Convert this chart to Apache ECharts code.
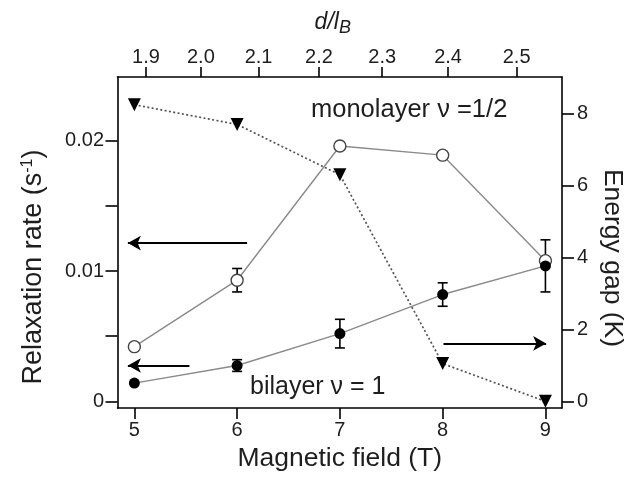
<!DOCTYPE html>
<html>
<head>
<meta charset="utf-8">
<script src="https://cdn.jsdelivr.net/npm/echarts@6/dist/echarts.min.js"></script>
<style>
  html, body { margin: 0; padding: 0; background: #fff; }
  #chart { width: 634px; height: 477px; }
</style>
</head>
<body>
<div id="chart"></div>
<script>
// Magnetic field values (T) shared by every series
const fieldT = [5, 6, 7, 8, 9];

// Relaxation rates (s^-1) with their error bars
const monolayerRate = [0.0042, 0.0093, 0.0196, 0.0189, 0.0108];
const monolayerErr  = [0, 0.0009, 0, 0, 0];
const bilayerRate   = [0.0014, 0.00275, 0.0052, 0.0082, 0.0104];
const bilayerErr    = [0, 0.00045, 0.0011, 0.0009, 0.002];

// Energy gap (K) of the bilayer state
const energyGapK = [8.25, 7.7, 6.3, 1.05, 0];

// Tick values and labels
const fieldTicks = [5, 6, 7, 8, 9];
const rateTicks  = [0, 0.005, 0.01, 0.015, 0.02];
const rateLabels = [0, 0.01, 0.02];
const gapTicks   = [0, 2, 4, 6, 8];
const ratioTicks = ['1.9', '2.0', '2.1', '2.2', '2.3', '2.4', '2.5'];

// d/l_B grows as the square root of the field: d/l_B = A*sqrt(B) + C
const RATIO_A = 0.8673, RATIO_C = -0.0611;
function fieldFromRatio(r) { const s = (r - RATIO_C) / RATIO_A; return s * s; }
const ratioFieldPos = ratioTicks.map(t => fieldFromRatio(parseFloat(t)));

const FONT = '"Liberation Sans", Arial, sans-serif';
const INK = '#1e1e1e';

const chart = echarts.init(document.getElementById('chart'), null, { renderer: 'canvas' });

const axisLineStyle = { color: '#000', width: 1.6 };
const labelStyle = { color: INK, fontFamily: FONT, fontSize: 20 };

function withErr(values, errs) {
  return fieldT.map((x, i) => [x, values[i], errs[i]]).filter(d => d[2] > 0);
}

function errorBarSeries(values, errs) {
  return {
    type: 'custom',
    xAxisIndex: 0,
    yAxisIndex: 0,
    silent: true,
    z: 3,
    data: withErr(values, errs),
    renderItem(params, api) {
      const x = api.value(0), y = api.value(1), e = api.value(2);
      const lo = api.coord([x, y - e]);
      const hi = api.coord([x, y + e]);
      const w = 5;
      const st = { stroke: '#000', lineWidth: 1.6 };
      return {
        type: 'group',
        children: [
          { type: 'line', shape: { x1: lo[0], y1: lo[1], x2: hi[0], y2: hi[1] }, style: st },
          { type: 'line', shape: { x1: lo[0] - w, y1: lo[1], x2: lo[0] + w, y2: lo[1] }, style: st },
          { type: 'line', shape: { x1: hi[0] - w, y1: hi[1], x2: hi[0] + w, y2: hi[1] }, style: st }
        ]
      };
    }
  };
}

const arrowLine = {
  silent: true,
  symbol: ['none', 'arrow'],
  symbolSize: [11, 13],
  label: { show: false },
  lineStyle: { color: '#000', width: 2, type: 'solid' },
  emphasis: { disabled: true }
};

const option = {
  backgroundColor: '#fff',
  animation: false,
  grid: { left: 117.5, right: 69, top: 77, bottom: 67, containLabel: false },
  xAxis: [
    {
      type: 'value',
      position: 'bottom',
      min: 4.836, max: 9.161,
      name: 'Magnetic field (T)',
      nameLocation: 'middle',
      nameGap: 37,
      nameTextStyle: { color: INK, fontFamily: FONT, fontSize: 26.5 },
      axisLine: { show: true, onZero: false, lineStyle: axisLineStyle },
      axisTick: { show: true, length: 11, customValues: fieldTicks, lineStyle: axisLineStyle },
      axisLabel: Object.assign({ margin: 12, customValues: fieldTicks }, labelStyle),
      splitLine: { show: false }
    },
    {
      type: 'value',
      position: 'top',
      min: 4.836, max: 9.161,
      name: '{i|d/l}{s|B}',
      nameLocation: 'middle',
      nameGap: 40,
      nameTextStyle: {
        color: INK, fontFamily: FONT, padding: [0, 14, 0, 0],
        rich: {
          i: { fontStyle: 'italic', fontSize: 23, fontFamily: FONT, color: INK },
          s: { fontStyle: 'italic', fontSize: 18, fontFamily: FONT, color: INK, verticalAlign: 'bottom', padding: [10, 0, 0, 0] }
        }
      },
      axisLine: { show: true, onZero: false, lineStyle: axisLineStyle },
      axisTick: { show: true, length: 10, customValues: ratioFieldPos, lineStyle: axisLineStyle },
      axisLabel: Object.assign({
        margin: 10,
        customValues: ratioFieldPos,
        formatter: function (v) {
          let best = 0;
          ratioFieldPos.forEach((p, i) => { if (Math.abs(p - v) < Math.abs(ratioFieldPos[best] - v)) best = i; });
          return ratioTicks[best];
        }
      }, labelStyle),
      splitLine: { show: false }
    }
  ],
  yAxis: [
    {
      type: 'value',
      position: 'left',
      min: -0.00051, max: 0.0249,
      name: '{t|Relaxation rate (s}{p|-1}{t|)}',
      nameLocation: 'middle',
      nameGap: 70,
      nameTextStyle: {
        color: INK, fontFamily: FONT, padding: [0, 49, 0, 0],
        rich: {
          t: { fontSize: 27, fontFamily: FONT, color: INK },
          p: { fontSize: 16, fontFamily: FONT, color: INK, verticalAlign: 'top', padding: [0, 0, 12, 0] }
        }
      },
      axisLine: { show: true, onZero: false, lineStyle: axisLineStyle },
      axisTick: { show: true, length: 12, customValues: rateTicks, lineStyle: axisLineStyle },
      axisLabel: Object.assign({ margin: 13.5, customValues: rateLabels }, labelStyle),
      splitLine: { show: false }
    },
    {
      type: 'value',
      position: 'right',
      min: -0.185, max: 9.02,
      name: 'Energy gap (K)',
      nameLocation: 'middle',
      nameGap: 37,
      nameRotate: -90,
      nameTextStyle: { color: INK, fontFamily: FONT, fontSize: 26.5, padding: [0, 0, 0, 31] },
      axisLine: { show: true, onZero: false, lineStyle: axisLineStyle },
      axisTick: { show: true, length: 12, customValues: gapTicks, lineStyle: axisLineStyle },
      axisLabel: Object.assign({ margin: 15, customValues: gapTicks }, labelStyle),
      splitLine: { show: false }
    }
  ],
  graphic: [
    {
      type: 'text', silent: true, z: 10,
      style: { text: 'monolayer \u03bd =1/2', x: 311, y: 110, fill: INK, font: '25.5px ' + FONT, verticalAlign: 'middle', align: 'left' }
    },
    {
      type: 'text', silent: true, z: 10,
      style: { text: 'bilayer \u03bd = 1', x: 250, y: 387, fill: INK, font: '25px ' + FONT, verticalAlign: 'middle', align: 'left' }
    }
  ],
  series: [
    {
      name: 'Energy gap',
      type: 'line',
      xAxisIndex: 0,
      yAxisIndex: 1,
      data: fieldT.map((x, i) => [x, energyGapK[i]]),
      symbol: 'triangle',
      symbolRotate: 180,
      symbolSize: 13,
      itemStyle: { color: '#000' },
      lineStyle: { color: '#555', width: 1.7, type: [2, 2.4] },
      z: 2,
      markLine: Object.assign({}, arrowLine, {
        data: [[{ coord: [8.008, 1.61] }, { coord: [9.007, 1.61] }]]
      })
    },
    {
      name: 'monolayer',
      type: 'line',
      xAxisIndex: 0,
      yAxisIndex: 0,
      data: fieldT.map((x, i) => [x, monolayerRate[i]]),
      symbol: 'circle',
      symbolSize: 12,
      itemStyle: { color: '#fff', borderColor: '#444', borderWidth: 1.4 },
      lineStyle: { color: '#8a8a8a', width: 1.4 },
      z: 4,
      markLine: Object.assign({}, arrowLine, {
        data: [
          [{ coord: [6.097, 0.01215] }, { coord: [4.937, 0.01215] }],
          [{ coord: [5.536, 0.00275] }, { coord: [4.937, 0.00275] }]
        ]
      })
    },
    {
      name: 'bilayer',
      type: 'line',
      xAxisIndex: 0,
      yAxisIndex: 0,
      data: fieldT.map((x, i) => [x, bilayerRate[i]]),
      symbol: 'circle',
      symbolSize: 11,
      itemStyle: { color: '#000' },
      lineStyle: { color: '#8a8a8a', width: 1.4 },
      z: 5
    },
    errorBarSeries(monolayerRate, monolayerErr),
    errorBarSeries(bilayerRate, bilayerErr)
  ]
};

chart.setOption(option);
</script>
</body>
</html>
